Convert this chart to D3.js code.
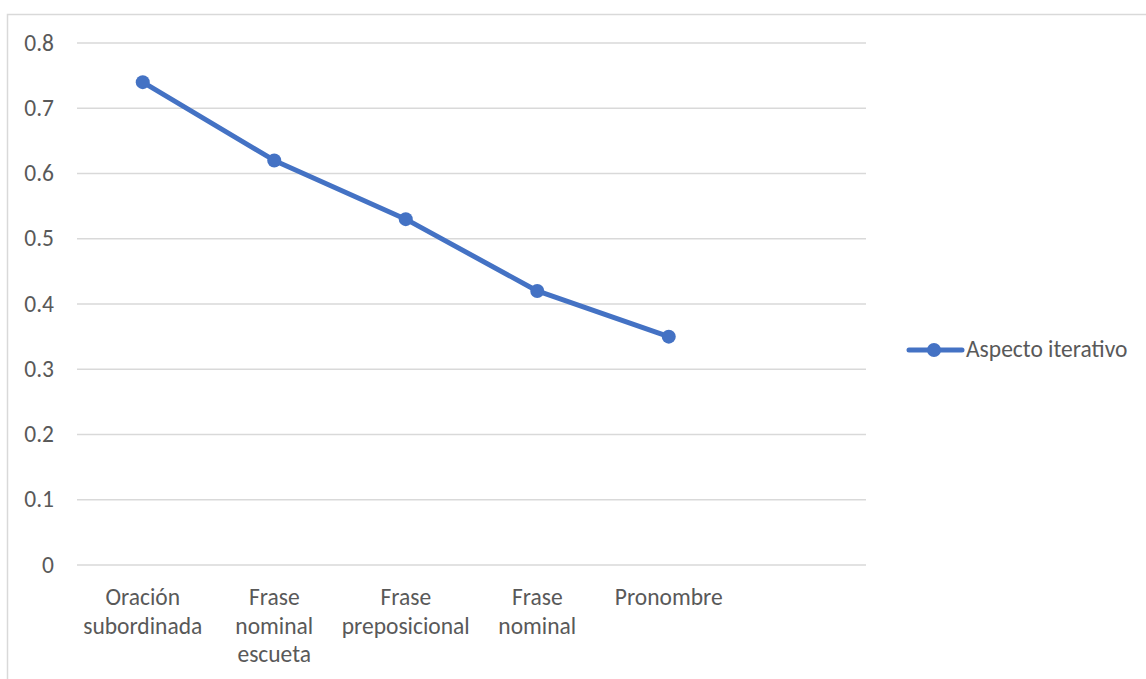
<!DOCTYPE html>
<html>
<head>
<meta charset="utf-8">
<script src="https://cdn.jsdelivr.net/npm/d3@7"></script>
<style>
  html, body { margin: 0; padding: 0; background: #fff; }
  svg { display: block; }
  text { font-family: Carlito, "Open Sans", "Noto Sans", sans-serif; fill: #595959; }
</style>
</head>
<body>
<svg id="chart" width="1146" height="679"></svg>
<script>
// Category labels (a trailing empty slot keeps the axis width)
const categories = [
  ["Oración", "subordinada"],
  ["Frase", "nominal", "escueta"],
  ["Frase", "preposicional"],
  ["Frase", "nominal"],
  ["Pronombre"],
  [""]
];
const seriesName = "Aspecto iterativo";
const values = [0.74, 0.62, 0.53, 0.42, 0.35];
const yTicks = [0, 0.1, 0.2, 0.3, 0.4, 0.5, 0.6, 0.7, 0.8];

const fontSize = 23.5;
const svg = d3.select("#chart");
const color = "#4472C4";

// Outer chart frame
svg.append("rect")
  .attr("x", 7.5).attr("y", 14.5)
  .attr("width", 1146).attr("height", 679)
  .attr("fill", "none").attr("stroke", "#d9d9d9").attr("stroke-width", 1.5);

const plot = { left: 77, right: 866, top: 43, bottom: 565 };

const x = d3.scaleBand()
  .domain(d3.range(categories.length))
  .range([plot.left, plot.right]);

const y = d3.scaleLinear()
  .domain([0, 0.8])
  .range([plot.bottom, plot.top]);

// Horizontal gridlines
svg.append("g")
  .selectAll("line")
  .data(yTicks)
  .join("line")
  .attr("x1", plot.left).attr("x2", plot.right)
  .attr("y1", d => y(d)).attr("y2", d => y(d))
  .attr("stroke", "#d9d9d9").attr("stroke-width", 1.5);

// Y-axis labels
const yAxis = d3.axisLeft(y)
  .tickValues(yTicks)
  .tickFormat(d => d === 0 ? "0" : d3.format(".1f")(d))
  .tickSize(0)
  .tickPadding(0);
const yg = svg.append("g")
  .attr("transform", `translate(54,0)`)
  .call(yAxis);
yg.select(".domain").remove();
yg.selectAll("text")
  .attr("font-size", fontSize)
  .attr("font-family", "Carlito, \"Open Sans\", sans-serif")
  .attr("fill", "#595959")
  .attr("dy", "0.3em");

// X-axis category labels
const xg = svg.append("g");
categories.forEach((lines, i) => {
  const t = xg.append("text")
    .attr("text-anchor", "middle")
    .attr("font-size", fontSize)
    .attr("x", x(i) + x.bandwidth() / 2)
    .attr("y", 605);
  lines.forEach((ln, j) => {
    t.append("tspan")
      .attr("x", x(i) + x.bandwidth() / 2)
      .attr("dy", j === 0 ? 0 : 28.5)
      .text(ln);
  });
});

// Series line
const line = d3.line()
  .x((d, i) => x(i) + x.bandwidth() / 2)
  .y(d => y(d));

svg.append("path")
  .datum(values)
  .attr("d", line)
  .attr("fill", "none")
  .attr("stroke", color)
  .attr("stroke-width", 5)
  .attr("stroke-linejoin", "round")
  .attr("stroke-linecap", "round");

svg.append("g")
  .selectAll("circle")
  .data(values)
  .join("circle")
  .attr("cx", (d, i) => x(i) + x.bandwidth() / 2)
  .attr("cy", d => y(d))
  .attr("r", 7)
  .attr("fill", color);

// Legend
const lg = svg.append("g").attr("transform", "translate(907,350)");
lg.append("line")
  .attr("x1", 2).attr("x2", 55)
  .attr("y1", 0).attr("y2", 0)
  .attr("stroke", color).attr("stroke-width", 5)
  .attr("stroke-linecap", "round");
lg.append("circle")
  .attr("cx", 27).attr("cy", 0).attr("r", 7).attr("fill", color);
lg.append("text")
  .attr("x", 59).attr("y", 0).attr("dy", "0.3em")
  .attr("font-size", fontSize)
  .text(seriesName);
</script>
</body>
</html>
